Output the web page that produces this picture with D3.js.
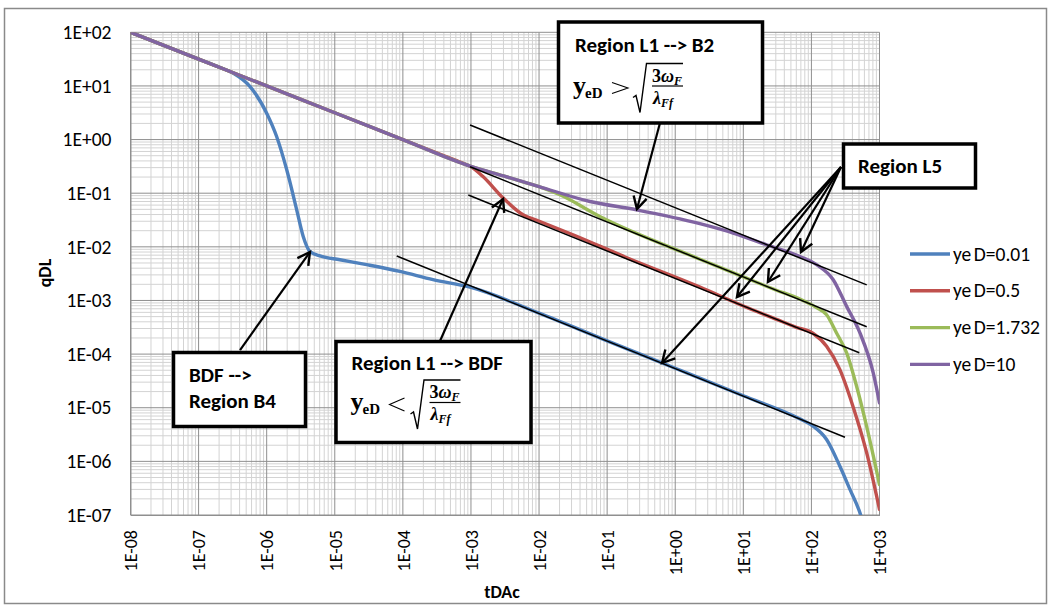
<!DOCTYPE html>
<html>
<head>
<meta charset="utf-8">
<script src="https://cdn.jsdelivr.net/npm/d3@7"></script>
<style>
  body { margin: 0; background: #fff; }
  svg { display: block; }
</style>
</head>
<body>
<svg id="chart" width="1051" height="607"></svg>
<script>
// ---------------- data ----------------
const seriesNames  = ["yeD=0.01", "yeD=0.5", "yeD=1.732", "yeD=10"];
const seriesColors = ["#4F81BD", "#C0504D", "#9BBB59", "#8064A2"];

// yeD = 0.01
const tBlue = [1e-8, 1e-7, 2e-7, 3.2e-7, 5.7e-7, 1e-6, 1.4e-6, 1.97e-6, 2.76e-6, 3.44e-6, 4.32e-6,
               6.07e-6, 1.19e-5, 2.94e-5, 9.06e-5, 2.77e-4, 1e-3, 1e-2, 0.1, 1, 10, 66,
               106, 167, 262, 368, 516, 650];
const qBlue = [100, 31.6, 22.4, 17.4, 9.7, 3.1, 1.14, 0.273, 0.049, 0.0156, 0.0082,
               0.0068, 0.00575, 0.00465, 0.00348, 0.00244, 0.00175, 5.8e-4, 1.77e-4, 5.45e-5, 1.67e-5, 6.27e-6,
               4.52e-6, 2.56e-6, 8.1e-7, 3.0e-7, 1.1e-7, 4e-8];

// yeD = 0.5
const tRed = [1e-8, 1e-7, 1e-6, 1e-5, 1e-4, 3e-4, 6e-4, 8e-4, 1e-3, 1.5e-3, 2.95e-3, 5.8e-3, 1.03e-2, 3.15e-2,
              0.195, 2.31, 10, 30, 60, 105, 167, 262, 407, 646, 1000];
const qRed = [100, 31.6, 10, 3.16, 1.0, 0.577, 0.408, 0.354, 0.31, 0.205, 0.082, 0.0396, 0.0297, 0.0168,
              0.00627, 0.00178, 7.9e-4, 4.5e-4, 3.16e-4, 2.45e-4, 1.40e-4, 5.14e-5, 1.07e-5, 1.47e-6, 1.27e-7];

// yeD = 1.732
const tGreen = [1e-8, 1e-7, 1e-6, 1e-5, 1e-4, 1e-3, 3e-3, 6e-3, 1e-2, 2.03e-2, 7.8e-2,
                2.31, 10, 30, 67.8, 119, 167, 234, 329, 461, 646, 1000];
const qGreen = [100, 31.6, 10, 3.16, 1.0, 0.316, 0.21, 0.161, 0.133, 0.0933, 0.0368,
                0.00588, 2.75e-3, 1.57e-3, 1.06e-3, 7.35e-4, 5.43e-4, 2.48e-4, 1.05e-4, 2.51e-5, 4.52e-6, 3.7e-7];

// yeD = 10
const tPurple = [1e-8, 1e-7, 1e-6, 1e-5, 1e-4, 1e-3, 3e-3, 1e-2, 5.6e-2, 0.27, 2.3,
                 7.1, 22, 67.8, 119, 209, 329, 516, 809, 1000];
const qPurple = [100, 31.6, 10, 3.16, 1.0, 0.316, 0.21, 0.133, 0.070, 0.049, 0.027,
                 0.0181, 0.0109, 0.00662, 0.00464, 0.00244, 7.76e-4, 2.48e-4, 4.47e-5, 1.23e-5];

// half-slope reference lines: [tStart, qStart, tEnd, qEnd]
const refLines = [
  [9.7e-4, 1.87,   649, 1.95e-3],
  [9.7e-4, 0.312,  649, 3.24e-4],
  [9.14e-4, 0.0925, 505, 1.06e-4],
  [8.13e-5, 6.75e-3, 311, 2.81e-6]
];

// annotation arrows: [tTail, qTail, tTip, qTip]
const arrows = [
  [4.06e-7, 1.19e-4, 4.32e-6, 8.0e-3],   // BDF --> Region B4
  [3.51e-4, 1.75e-4, 2.96e-3, 0.078],    // Region L1 --> BDF
  [0.597, 2.04, 0.274, 0.0507],          // Region L1 --> B2
  [272, 0.308, 70.3, 8.0e-3],            // Region L5 (purple)
  [272, 0.308, 23.0, 2.21e-3],           // Region L5 (green)
  [272, 0.308, 8.07, 1.16e-3],           // Region L5 (red)
  [272, 0.308, 0.640, 6.82e-5]           // Region L5 (blue)
];

const xTickValues = [1e-8, 1e-7, 1e-6, 1e-5, 1e-4, 1e-3, 1e-2, 1e-1, 1e0, 1e1, 1e2, 1e3];
const xTickLabels = ["1E-08", "1E-07", "1E-06", "1E-05", "1E-04", "1E-03", "1E-02",
                     "1E-01", "1E+00", "1E+01", "1E+02", "1E+03"];
const yTickValues = [1e-7, 1e-6, 1e-5, 1e-4, 1e-3, 1e-2, 1e-1, 1e0, 1e1, 1e2];
const yTickLabels = ["1E-07", "1E-06", "1E-05", "1E-04", "1E-03", "1E-02",
                     "1E-01", "1E+00", "1E+01", "1E+02"];

// ---------------- layout ----------------
const svg = d3.select("#chart");
const plot = { left: 130.5, right: 879.5, top: 32.3, bottom: 515 };
const uiFont = "Carlito, Lato, 'Open Sans', sans-serif";
const mathFont = "'Liberation Serif', 'DejaVu Serif', serif";

const x = d3.scaleLog().domain([1e-8, 1e3]).range([plot.left, plot.right]);
const y = d3.scaleLog().domain([1e-7, 1e2]).range([plot.bottom, plot.top]);

// outer chart frame
svg.append("rect")
  .attr("x", 4.5).attr("y", 8.5).attr("width", 1042).attr("height", 595)
  .attr("fill", "#fff").attr("stroke", "#8a8a8a").attr("stroke-width", 1.5);

// minor grid (2..9 in every decade)
function minorValues(lo, hi) {
  const out = [];
  for (let e = lo; e < hi; e++) for (let k = 2; k <= 9; k++) out.push(k * Math.pow(10, e));
  return out;
}
const grid = svg.append("g");
grid.selectAll("line.mx").data(minorValues(-8, 3)).join("line")
  .attr("x1", d => x(d)).attr("x2", d => x(d))
  .attr("y1", plot.top).attr("y2", plot.bottom)
  .attr("stroke", "#d3d3d3").attr("stroke-width", 1);
grid.selectAll("line.my").data(minorValues(-7, 2)).join("line")
  .attr("y1", d => y(d)).attr("y2", d => y(d))
  .attr("x1", plot.left).attr("x2", plot.right)
  .attr("stroke", "#d3d3d3").attr("stroke-width", 1);
// major grid
grid.selectAll("line.Mx").data(xTickValues).join("line")
  .attr("x1", d => x(d)).attr("x2", d => x(d))
  .attr("y1", plot.top).attr("y2", plot.bottom)
  .attr("stroke", "#8f8f8f").attr("stroke-width", 1);
grid.selectAll("line.My").data(yTickValues).join("line")
  .attr("y1", d => y(d)).attr("y2", d => y(d))
  .attr("x1", plot.left).attr("x2", plot.right)
  .attr("stroke", "#8f8f8f").attr("stroke-width", 1);

// axes (labels only, the grid carries the lines)
const yAxis = d3.axisLeft(y).tickValues(yTickValues)
  .tickFormat((d, i) => yTickLabels[i]).tickSize(0).tickPadding(19);
svg.append("g").attr("transform", `translate(${plot.left},0)`).call(yAxis)
  .call(g => g.select(".domain").attr("stroke", "#8f8f8f"))
  .selectAll("text").attr("font-family", uiFont).attr("font-size", 19.5).attr("fill", "#000");

const xAxis = d3.axisBottom(x).tickValues(xTickValues)
  .tickFormat((d, i) => xTickLabels[i]).tickSize(0);
svg.append("g").attr("transform", `translate(0,${plot.bottom})`).call(xAxis)
  .call(g => g.select(".domain").attr("stroke", "#8f8f8f"))
  .selectAll("text")
  .attr("font-family", uiFont).attr("font-size", 18).attr("fill", "#000")
  .attr("text-anchor", "end")
  .attr("transform", "rotate(-90)")
  .attr("x", -15).attr("y", 0).attr("dy", "0.35em");

// axis titles
svg.append("text").attr("x", 502).attr("y", 598).attr("text-anchor", "middle")
  .attr("font-family", uiFont).attr("font-weight", "bold").attr("font-size", 18).text("tDAc");
svg.append("text").attr("transform", "translate(51,273) rotate(-90)").attr("text-anchor", "middle")
  .attr("font-family", uiFont).attr("font-weight", "bold").attr("font-size", 18).text("qDL");

// clip for data
svg.append("clipPath").attr("id", "plotClip").append("rect")
  .attr("x", plot.left).attr("y", plot.top)
  .attr("width", plot.right - plot.left).attr("height", plot.bottom - plot.top);

const line = d3.line().x(d => x(d[0])).y(d => y(d[1])).curve(d3.curveMonotoneX);
const seriesT = [tBlue, tRed, tGreen, tPurple];
const seriesQ = [qBlue, qRed, qGreen, qPurple];

const curves = svg.append("g").attr("clip-path", "url(#plotClip)");
seriesT.forEach((ts, i) => {
  const pts = ts.map((t, j) => [t, seriesQ[i][j]]);
  curves.append("path").attr("d", line(pts))
    .attr("fill", "none").attr("stroke", seriesColors[i])
    .attr("stroke-width", 3.4).attr("stroke-linejoin", "round").attr("stroke-linecap", "round");
});

// reference lines
svg.append("g").selectAll("line").data(refLines).join("line")
  .attr("x1", d => x(d[0])).attr("y1", d => y(d[1]))
  .attr("x2", d => x(d[2])).attr("y2", d => y(d[3]))
  .attr("stroke", "#000").attr("stroke-width", 1.5);

// annotation arrows with open heads
const arrowG = svg.append("g");
arrows.forEach(a => {
  const x1 = x(a[0]), y1 = y(a[1]), x2 = x(a[2]), y2 = y(a[3]);
  const ang = Math.atan2(y2 - y1, x2 - x1);
  const L = 14, s = 0.5;
  const h1 = [x2 - L * Math.cos(ang - s), y2 - L * Math.sin(ang - s)];
  const h2 = [x2 - L * Math.cos(ang + s), y2 - L * Math.sin(ang + s)];
  arrowG.append("line").attr("x1", x1).attr("y1", y1).attr("x2", x2).attr("y2", y2)
    .attr("stroke", "#000").attr("stroke-width", 2.2);
  arrowG.append("path").attr("d", `M${h1}L${x2},${y2}L${h2}`)
    .attr("fill", "none").attr("stroke", "#000").attr("stroke-width", 2.4)
    .attr("stroke-linejoin", "miter");
});

// annotation boxes
function box(x0, y0, w, h) {
  return svg.append("rect").attr("x", x0).attr("y", y0).attr("width", w).attr("height", h)
    .attr("fill", "#fff").attr("stroke", "#000").attr("stroke-width", 3.5);
}
function boxText(tx, ty, str) {
  svg.append("text").attr("x", tx).attr("y", ty)
    .attr("font-family", uiFont).attr("font-weight", "bold").attr("font-size", 21)
    .attr("fill", "#000").text(str);
}
// y_eD (op) sqrt(3 omega_F / lambda_Ff), anchored at the baseline of "y"
function inequality(bx, by, op) {
  const g = svg.append("g").attr("font-family", mathFont).attr("font-weight", "bold").attr("fill", "#000");
  g.append("text").attr("x", bx).attr("y", by).attr("font-size", 26).text("y");
  g.append("text").attr("x", bx + 12).attr("y", by + 4).attr("font-size", 15).text("eD");
  const opPath = op === ">"
    ? `M${bx + 39},${by - 11} L${bx + 55},${by - 5.5} L${bx + 39},${by}`
    : `M${bx + 54},${by - 12} L${bx + 39},${by - 5.5} L${bx + 54},${by + 1}`;
  svg.append("path").attr("d", opPath).attr("fill", "none").attr("stroke", "#000").attr("stroke-width", 1.1);
  // radical sign
  svg.append("path")
    .attr("d", `M${bx + 60},${by + 4} L${bx + 63},${by + 2} L${bx + 67},${by + 19} L${bx + 73.5},${by - 30} L${bx + 110},${by - 30}`)
    .attr("fill", "none").attr("stroke", "#000").attr("stroke-width", 1.4);
  // fraction
  const num = g.append("text").attr("x", bx + 79).attr("y", by - 12).attr("font-size", 18);
  num.append("tspan").text("3");
  num.append("tspan").attr("font-style", "italic").text("ω");
  num.append("tspan").attr("font-style", "italic").attr("font-size", 12).attr("dy", 3).text("F");
  svg.append("line").attr("x1", bx + 79).attr("x2", bx + 110)
    .attr("y1", by - 7.5).attr("y2", by - 7.5).attr("stroke", "#000").attr("stroke-width", 1.2);
  const den = g.append("text").attr("x", bx + 80).attr("y", by + 10).attr("font-size", 18);
  den.append("tspan").attr("font-style", "italic").text("λ");
  den.append("tspan").attr("font-style", "italic").attr("font-size", 12).attr("dy", 3).text("Ff");
}

box(558.5, 22, 204, 101);
boxText(575, 52, "Region L1 --> B2");
inequality(573, 93.5, ">");

box(336, 341.5, 195, 101);
boxText(351.5, 370, "Region L1 --> BDF");
inequality(350.5, 410, "<");

box(173.5, 352.5, 132, 74);
boxText(189, 382, "BDF -->");
boxText(189, 408, "Region B4");

box(843.5, 144, 132, 44);
boxText(858, 173, "Region L5");

// legend
const legend = svg.append("g");
seriesNames.forEach((name, i) => {
  const ly = 254 + i * 36.8;
  legend.append("line").attr("x1", 910).attr("x2", 950).attr("y1", ly).attr("y2", ly)
    .attr("stroke", seriesColors[i]).attr("stroke-width", 3.4);
  const t = legend.append("text").attr("x", 953).attr("y", ly + 6.5)
    .attr("font-family", uiFont).attr("font-size", 19.5).attr("fill", "#000");
  t.append("tspan").text(name.slice(0, 2));
  t.append("tspan").attr("dx", 2.5).text(name.slice(2));
});
</script>
</body>
</html>
